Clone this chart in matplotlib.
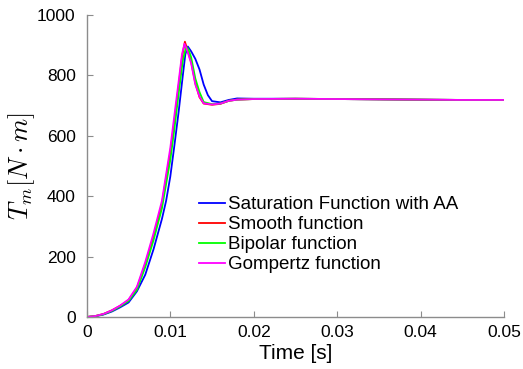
import matplotlib
matplotlib.use("Agg")
import matplotlib.pyplot as plt

# ---- data ----
t_sat = [0, 0.001, 0.002, 0.003, 0.004, 0.005, 0.006, 0.007, 0.008, 0.009, 0.0095, 0.010,
         0.0105, 0.011, 0.0115, 0.0118, 0.0121, 0.0125, 0.013, 0.0135, 0.014, 0.0145,
         0.015, 0.016, 0.017, 0.018, 0.02, 0.025, 0.03, 0.035, 0.04, 0.045, 0.05]
y_sat = [0, 2, 8, 18, 32, 48, 85, 140, 225, 325, 385, 465,
         570, 680, 800, 870, 896, 880, 855, 820, 770, 735,
         715, 711, 719, 724, 723, 723, 722, 721, 720, 719, 719]

t_smooth = [0, 0.001, 0.002, 0.003, 0.004, 0.005, 0.006, 0.007, 0.008, 0.009, 0.010,
            0.0105, 0.011, 0.0114, 0.01175, 0.012, 0.0125, 0.013, 0.0135, 0.014,
            0.015, 0.016, 0.017, 0.018, 0.02, 0.025, 0.03, 0.035, 0.04, 0.045, 0.05]
y_smooth = [0, 3, 10, 22, 37, 56, 96, 175, 268, 375, 545,
            650, 765, 860, 912, 890, 845, 775, 728, 707,
            703, 706, 716, 720, 722, 723, 722, 721, 720, 719, 719]

t_bip = [0, 0.001, 0.002, 0.003, 0.004, 0.005, 0.006, 0.007, 0.008, 0.009, 0.010,
         0.0105, 0.011, 0.0115, 0.0119, 0.0122, 0.0125, 0.013, 0.0135, 0.014,
         0.015, 0.016, 0.017, 0.018, 0.02, 0.025, 0.03, 0.035, 0.04, 0.045, 0.05]
y_bip = [0, 3, 9, 20, 35, 53, 90, 165, 255, 360, 520,
         625, 740, 850, 895, 885, 860, 790, 745, 712,
         705, 707, 716, 720, 722, 723, 722, 721, 720, 719, 719]

t_gomp = [0, 0.001, 0.002, 0.003, 0.004, 0.005, 0.006, 0.007, 0.008, 0.009, 0.010,
          0.0105, 0.011, 0.0114, 0.0117, 0.012, 0.0125, 0.013, 0.0135, 0.014,
          0.015, 0.016, 0.017, 0.018, 0.02, 0.025, 0.03, 0.035, 0.04, 0.045, 0.05]
y_gomp = [0, 3, 10, 22, 38, 58, 100, 182, 278, 385, 560,
          670, 780, 870, 905, 885, 840, 770, 730, 708,
          704, 707, 716, 720, 722, 723, 722, 721, 720, 719, 719]

labels = ["Saturation Function with AA", "Smooth function", "Bipolar function", "Gompertz function"]
xticks = [0, 0.01, 0.02, 0.03, 0.04, 0.05]
xtick_labels = ["0", "0.01", "0.02", "0.03", "0.04", "0.05"]
yticks = [0, 200, 400, 600, 800, 1000]

# ---- figure ----
plt.rcParams['mathtext.fontset'] = 'cm'
fig = plt.figure(figsize=(5.23, 3.69), dpi=100)
ax = fig.add_axes([0.166, 0.141, 0.798, 0.818])

series = [(t_sat, y_sat, "#0000ff"), (t_smooth, y_smooth, "#ff0000"),
          (t_bip, y_bip, "#00ff00"), (t_gomp, y_gomp, "#ff00ff")]
for (t, y, c), lab in zip(series, labels):
    ax.plot(t, y, color=c, lw=1.3, label=lab)

ax.set_xlim(0, 0.05)
ax.set_ylim(0, 1000)
ax.set_xticks(xticks)
ax.set_xticklabels(xtick_labels)
ax.set_yticks(yticks)
for s in ["top", "right"]:
    ax.spines[s].set_visible(False)
for s in ["left", "bottom"]:
    ax.spines[s].set_color("#8c8c8c")
    ax.spines[s].set_linewidth(1.0)
ax.tick_params(direction="in", length=4, color="#8c8c8c", labelsize=12.5)
ax.tick_params(axis="x", pad=6)
ax.tick_params(axis="y", pad=8)
for lbl in ax.get_xticklabels() + ax.get_yticklabels():
    lbl.set_family("Liberation Sans")

ax.set_xlabel("Time [s]", family=["Liberation Sans"], fontsize=15, labelpad=3)
ax.set_ylabel(r"$T_m[N\cdot m]$", fontsize=19, labelpad=0)

leg = ax.legend(loc="upper left", bbox_to_anchor=(0.269, 0.40), frameon=False,
                prop={"family": ["Liberation Sans"], "size": 13.5},
                handlelength=1.4, handletextpad=0.12, labelspacing=0.15,
                borderpad=0, borderaxespad=0)
for l in leg.get_lines():
    l.set_linewidth(1.3)

fig.savefig("out.png", dpi=100)
